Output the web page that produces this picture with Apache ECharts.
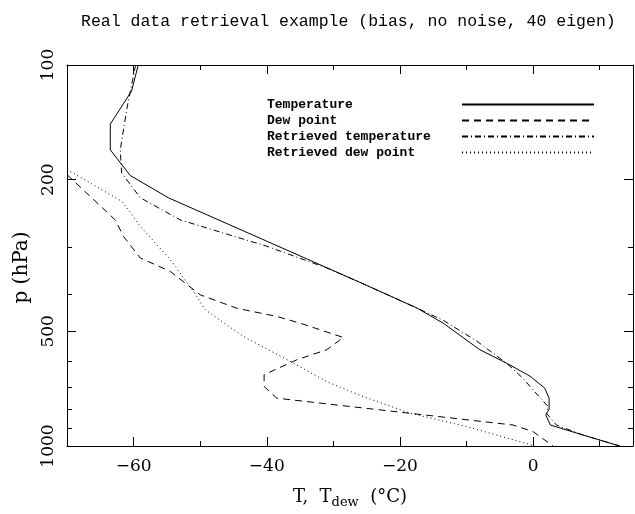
<!DOCTYPE html>
<html><head><meta charset="utf-8">
<script src="https://cdn.jsdelivr.net/npm/echarts@6/dist/echarts.min.js"></script>
<style>html,body{margin:0;padding:0;background:#fff}#c{width:635px;height:514px}</style>
</head><body><div id="c"></div>
<script>
// ---- data ----
const titleText = 'Real data retrieval example (bias, no noise, 40 eigen)';
const seriesNames = ['Temperature', 'Dew point', 'Retrieved temperature', 'Retrieved dew point'];
const xTicks = [-60, -50, -40, -30, -20, -10, 0, 10];
const xLabelTicks = [-60, -40, -20, 0];
const pLabels = [100, 200, 500, 1000];
const pTicks = [200, 300, 400, 500, 600, 700, 800, 900];
const pMajorTicks = [200, 500];

const tempP = [100, 117, 143, 167, 195, 223, 290, 372, 434, 476, 559, 606, 655, 705, 749, 801, 829, 881, 936, 1000];
const tempT = [-59.3, -60.3, -63.5, -63.5, -60.5, -54.8, -40, -26, -17.5, -13.5, -8, -4, -0.5, 1.75, 2.4, 2.4, 1.9, 2.6, 7.5, 13];

const dewP = [194, 255, 282, 321, 348, 401, 435, 457, 476, 519, 559, 594, 650, 698, 749, 815, 881, 917, 1000];
const dewT = [-70, -62.75, -61.5, -59, -54.5, -50, -44.5, -38.5, -35, -28.5, -31, -35.5, -40.4, -40.4, -38.5, -20, -3, 0, 3];

const retTempP = [100, 130, 167, 192, 223, 255, 299, 341, 372, 434, 468, 530, 588, 617, 665, 713, 788, 820, 881, 936, 1000];
const retTempT = [-59.7, -61, -62, -61.8, -59, -53, -40, -31, -26, -17.5, -13.5, -8.5, -5, -3.5, -1.5, 0, 2.25, 2, 3.5, 7.5, 13];

const retDewP = [188, 228, 265, 324, 393, 439, 516, 606, 678, 742, 820, 889, 1000];
const retDewT = [-70, -61.75, -59, -54.5, -51, -49.25, -43.5, -36, -31, -25.5, -18.5, -10, 0.3];

// ---- chart ----
const F = 'DejaVu Serif';
const M = 'Liberation Mono';
const black = '#000';
function pairs(T, P) { return T.map((t, i) => [t, P[i]]); }
const lineAx = { show: true, onZero: false, lineStyle: { color: black, width: 1 } };
const noLine = { show: false, onZero: false };
const minus = v => String(v).replace('-', '\u2212');

const xBase = { type: 'value', min: -70, max: 15, splitLine: { show: false } };
const yBase = { type: 'value', min: 2, max: 3, inverse: true, splitLine: { show: false } };

const option = {
  animation: false,
  backgroundColor: '#fff',
  title: { text: titleText, left: 81, top: 13, padding: 0,
    textStyle: { fontFamily: M, fontSize: 16.5, fontWeight: 'normal', color: black } },
  grid: { left: 67, right: 2, top: 65, bottom: 68, containLabel: false },
  legend: {
    orient: 'vertical', left: 267, top: 98, align: 'right', padding: 0,
    itemWidth: 132, itemHeight: 12, itemGap: 3, selectedMode: false,
    data: seriesNames,
    itemStyle: { color: 'rgba(0,0,0,0)', borderColor: 'rgba(0,0,0,0)', borderWidth: 0 },
    formatter: n => '{t|' + n + '}',
    textStyle: { rich: { t: { width: 190, align: 'left', fontFamily: M, fontWeight: 'bold', fontSize: 13, color: black, lineHeight: 12 } } }
  },
  xAxis: [
    Object.assign({}, xBase, {
      position: 'bottom', axisLine: lineAx,
      axisTick: { inside: true, length: 5, customValues: xTicks, lineStyle: { color: black } },
      axisLabel: { customValues: xLabelTicks, formatter: minus, fontFamily: F, fontSize: 17, color: black, margin: 12 },
      name: '{a|T,  T}{b|dew}{a|  (\u00B0C)}', nameLocation: 'middle', nameGap: 39,
      nameTextStyle: { rich: {
        a: { fontFamily: F, fontSize: 18, color: black },
        b: { fontFamily: F, fontSize: 13, color: black, padding: [11, 0, 0, 0] } } }
    }),
    Object.assign({}, xBase, {
      position: 'bottom', axisLine: noLine,
      axisTick: { inside: true, length: 9, customValues: xLabelTicks, lineStyle: { color: black } },
      axisLabel: { show: false }
    }),
    Object.assign({}, xBase, {
      position: 'top', axisLine: lineAx,
      axisTick: { inside: true, length: 5, customValues: xTicks, lineStyle: { color: black } },
      axisLabel: { show: false }
    }),
    Object.assign({}, xBase, {
      position: 'top', axisLine: noLine,
      axisTick: { inside: true, length: 9, customValues: xLabelTicks, lineStyle: { color: black } },
      axisLabel: { show: false }
    })
  ],
  yAxis: [
    { type: 'log', logBase: 10, min: 100, max: 1000, inverse: true, show: false },
    Object.assign({}, yBase, {
      position: 'left', axisLine: lineAx,
      axisTick: { inside: true, length: 5, customValues: pTicks.map(Math.log10), lineStyle: { color: black } },
      axisLabel: { customValues: [2, Math.log10(200), Math.log10(500), 3],
        formatter: v => String(Math.round(Math.pow(10, v))), rotate: 90,
        fontFamily: F, fontSize: 17, color: black, margin: 10 },
      name: 'p (hPa)', nameLocation: 'middle', nameGap: 35, nameRotate: 90,
      nameTextStyle: { fontFamily: F, fontSize: 20, color: black, padding: [0, 24, 0, 0] }
    }),
    Object.assign({}, yBase, {
      position: 'left', axisLine: noLine,
      axisTick: { inside: true, length: 9, customValues: pMajorTicks.map(Math.log10), lineStyle: { color: black } },
      axisLabel: { show: false }
    }),
    Object.assign({}, yBase, {
      position: 'right', axisLine: lineAx,
      axisTick: { inside: true, length: 5, customValues: pTicks.map(Math.log10), lineStyle: { color: black } },
      axisLabel: { show: false }
    }),
    Object.assign({}, yBase, {
      position: 'right', axisLine: noLine,
      axisTick: { inside: true, length: 9, customValues: pMajorTicks.map(Math.log10), lineStyle: { color: black } },
      axisLabel: { show: false }
    })
  ],
  series: [
    { name: seriesNames[0], type: 'line', xAxisIndex: 0, yAxisIndex: 0, symbol: 'none',
      data: pairs(tempT, tempP), lineStyle: { color: black, width: 1, type: 'solid' }, itemStyle: { color: black } },
    { name: seriesNames[1], type: 'line', xAxisIndex: 0, yAxisIndex: 0, symbol: 'none',
      data: pairs(dewT, dewP), lineStyle: { color: black, width: 1, type: [7, 5] }, itemStyle: { color: black } },
    { name: seriesNames[2], type: 'line', xAxisIndex: 0, yAxisIndex: 0, symbol: 'none',
      data: pairs(retTempT, retTempP), lineStyle: { color: black, width: 1, type: [6, 3, 1, 3] }, itemStyle: { color: black } },
    { name: seriesNames[3], type: 'line', xAxisIndex: 0, yAxisIndex: 0, symbol: 'none',
      data: pairs(retDewT, retDewP), lineStyle: { color: black, width: 1, type: [1, 3] }, itemStyle: { color: black } }
  ]
};
const chart = echarts.init(document.getElementById('c'), null, { renderer: 'canvas' });
chart.setOption(option);
</script>
</body></html>
